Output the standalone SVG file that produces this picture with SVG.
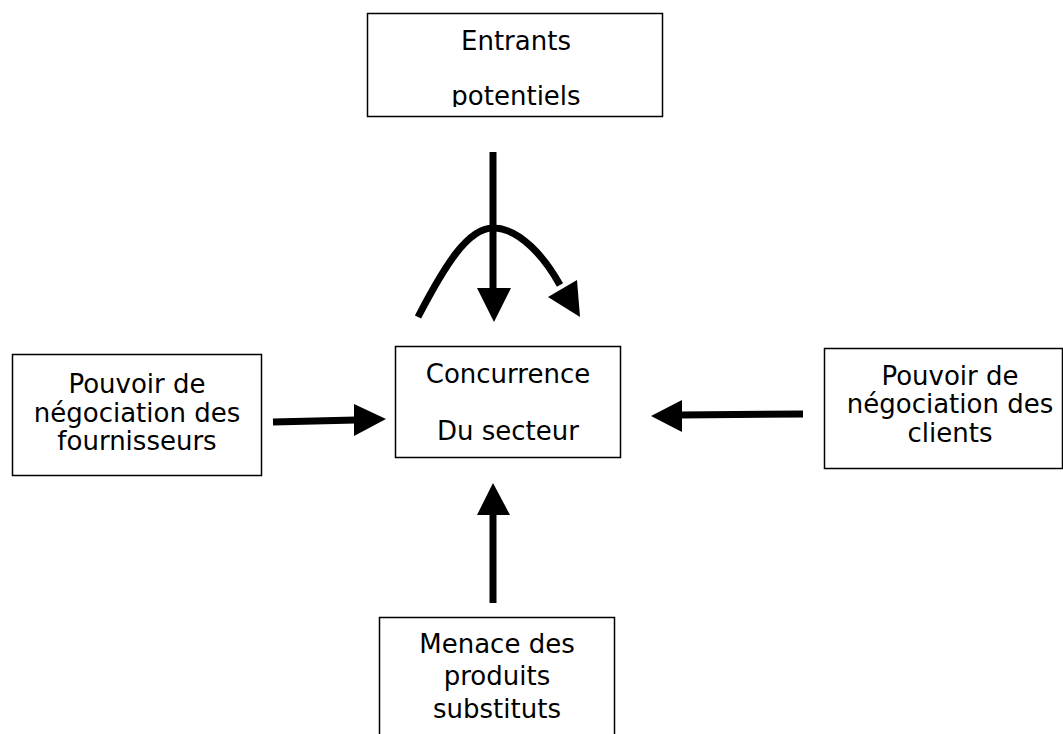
<svg xmlns="http://www.w3.org/2000/svg" width="1063" height="734" viewBox="0 0 1063 734">
  <style>
    .box { fill: #ffffff; stroke: #000000; stroke-width: 1.5; }
    .label { font-family: "DejaVu Sans", Verdana, sans-serif; font-size: 26px; fill: #000000; text-anchor: middle; }
    .shaft { fill: none; stroke: #000000; stroke-width: 7; }
    .head { fill: #000000; stroke: none; }
  </style>
  <defs>
    <clipPath id="clip-top">
      <rect x="367" y="13" width="296" height="94"/>
    </clipPath>
  </defs>
  <rect width="1063" height="734" fill="#ffffff"/>

  <g id="entrants">
    <rect class="box" x="367.5" y="13.5" width="295" height="103"/>
    <g clip-path="url(#clip-top)">
      <text class="label" x="516" y="50">Entrants</text>
      <text class="label" x="516" y="105">potentiels</text>
    </g>
  </g>

  <g id="concurrence">
    <rect class="box" x="395.5" y="346.5" width="225" height="111"/>
    <text class="label" x="508" y="383">Concurrence</text>
    <text class="label" x="508" y="440">Du secteur</text>
  </g>

  <g id="fournisseurs">
    <rect class="box" x="12.5" y="354.5" width="249" height="121"/>
    <text class="label" x="137" y="393">Pouvoir de</text>
    <text class="label" x="137" y="422">négociation des</text>
    <text class="label" x="137" y="450">fournisseurs</text>
  </g>

  <g id="clients">
    <rect class="box" x="824.5" y="348.5" width="238" height="120"/>
    <text class="label" x="950" y="385">Pouvoir de</text>
    <text class="label" x="950" y="413">négociation des</text>
    <text class="label" x="950" y="442">clients</text>
  </g>

  <g id="substituts">
    <rect class="box" x="379.5" y="617.5" width="235" height="130"/>
    <text class="label" x="497" y="653">Menace des</text>
    <text class="label" x="497" y="685">produits</text>
    <text class="label" x="497" y="718">substituts</text>
  </g>

  <g id="connectors">
    <!-- entrants: straight arrow down -->
    <line class="shaft" x1="493" y1="152" x2="493" y2="290"/>
    <polygon class="head" points="477,288 511,288 494,322"/>
    <!-- entrants: curved arrow over the top -->
    <path class="shaft" stroke-width="8" d="M418,317 C445,265 468,228 493,228 C520,228 545,258 560,285"/>
    <polygon class="head" points="548,297 577,280 580,317"/>
    <!-- fournisseurs -> concurrence -->
    <line class="shaft" x1="273" y1="422" x2="356" y2="420"/>
    <polygon class="head" points="354,404 354,436 386,419"/>
    <!-- clients -> concurrence -->
    <line class="shaft" x1="803" y1="414" x2="680" y2="415"/>
    <polygon class="head" points="682,400 682,432 651,416"/>
    <!-- substituts -> concurrence -->
    <line class="shaft" x1="493" y1="603" x2="493" y2="513"/>
    <polygon class="head" points="477,515 510,515 493,483"/>
  </g>
</svg>
